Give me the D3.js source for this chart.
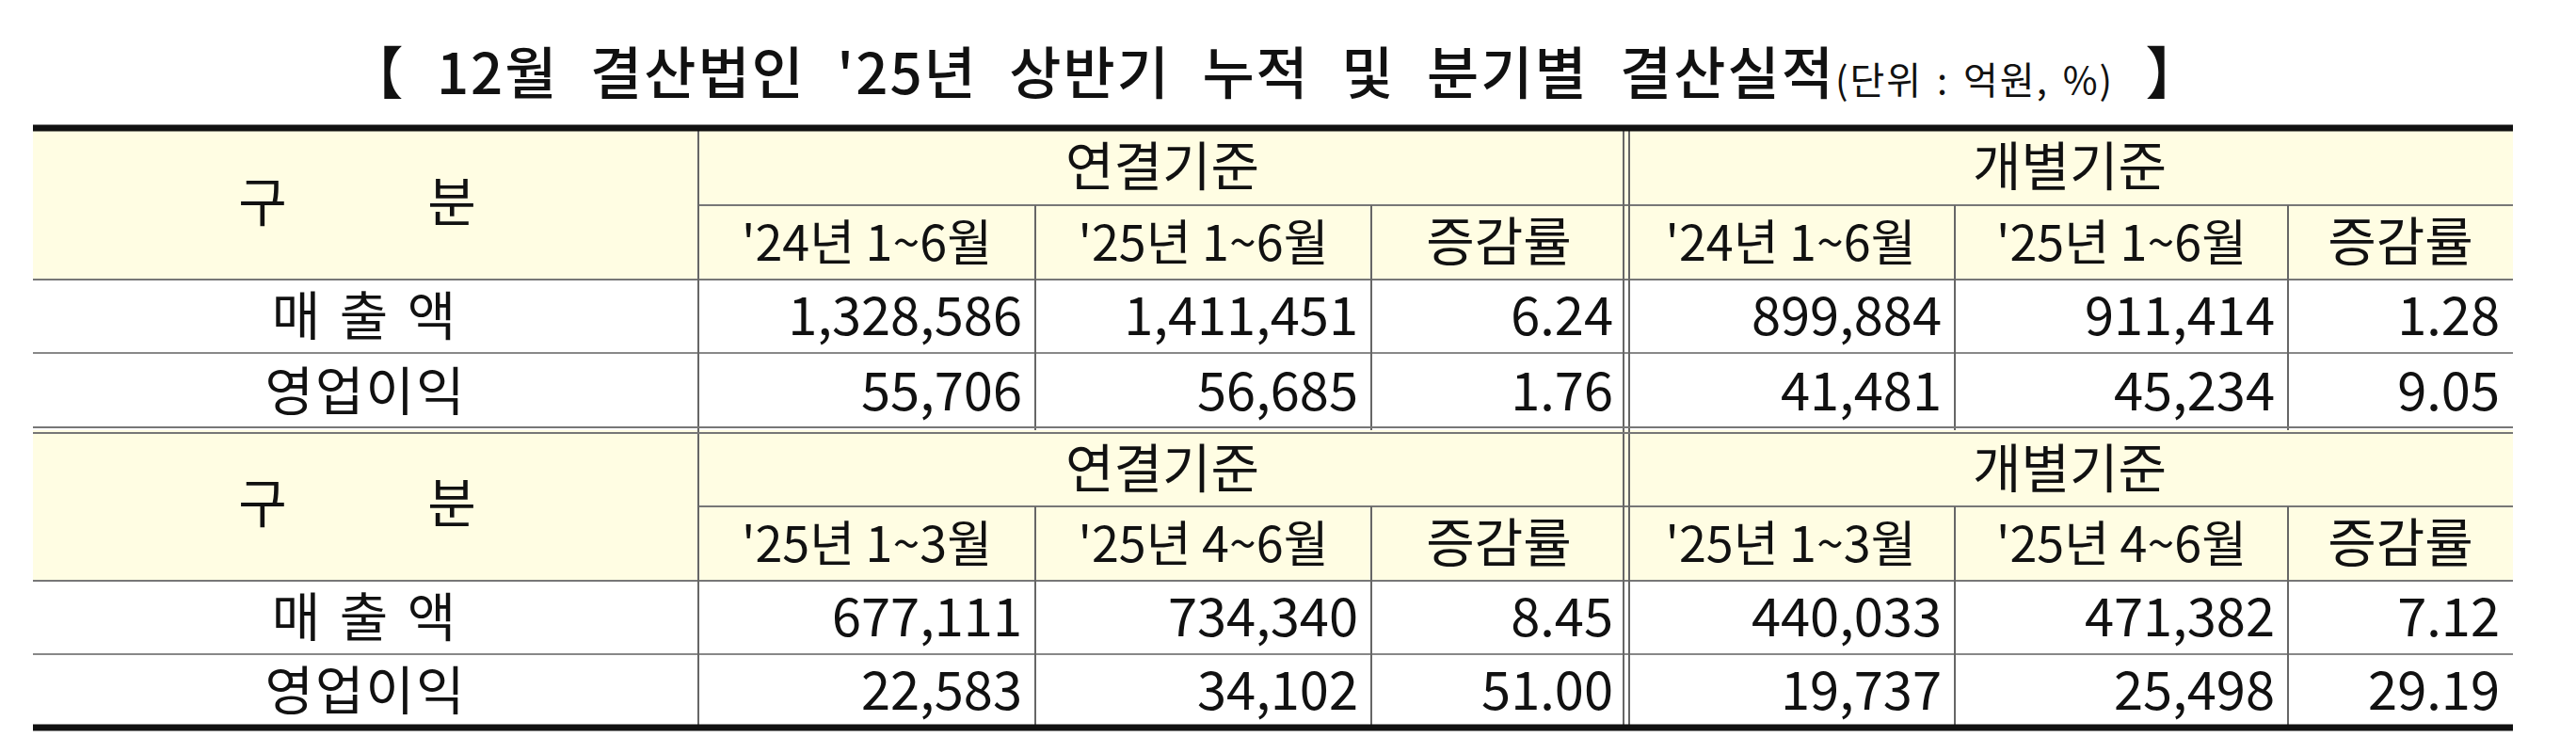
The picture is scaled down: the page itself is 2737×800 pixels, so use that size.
<!DOCTYPE html>
<html><head><meta charset="utf-8">
<script src="https://cdn.jsdelivr.net/npm/d3@7"></script>
<style>body{margin:0;background:#fff}text{font-family:"Noto Sans CJK KR","Noto Sans",sans-serif;fill:#111}</style>
</head><body><div id="chart"></div>
<script>
// data
var rowLabels = ['매 출 액', '영업이익'];
var groups = ['연결기준', '개별기준'];
var halfPeriods = ["'24년 1~6월", "'25년 1~6월", '증감률'];
var quarterPeriods = ["'25년 1~3월", "'25년 4~6월", '증감률'];
var halfValues = [
  ['1,328,586', '1,411,451', '6.24', '899,884', '911,414', '1.28'],
  ['55,706', '56,685', '1.76', '41,481', '45,234', '9.05']
];
var quarterValues = [
  ['677,111', '734,340', '8.45', '440,033', '471,382', '7.12'],
  ['22,583', '34,102', '51.00', '19,737', '25,498', '29.19']
];

var W = 2737, H = 800;
var svg = d3.select('#chart').append('svg').attr('width', W).attr('height', H);

// column edges and row edges
var colX = [35, 742, 1100, 1457, 1728, 2077, 2431, 2670];
var rowY = [136, 218, 297, 375, 457, 538, 617, 695, 773];
var fs = 56;

// title
var title = svg.append('text').attr('x', 1355).attr('y', 100).attr('text-anchor', 'middle')
  .style('font-size', '60px').style('font-weight', 500).style('word-spacing', '18px').style('letter-spacing', '2px');
title.append('tspan').text("【 12월 결산법인 '25년 상반기 누적 및 분기별 결산실적");
title.append('tspan').style('font-size', '40px').style('font-weight', 400).style('word-spacing', '4px').text('(단위 : 억원, %)');
title.append('tspan').text(' 】');

function block(top, periods, values) {
  var y = function(i) { return rowY[top + i]; };
  // header fill
  svg.append('rect').attr('x', colX[0]).attr('y', y(0)).attr('width', colX[7] - colX[0])
    .attr('height', y(2) - y(0)).attr('fill', '#fffde3');

  // header text
  svg.append('text').attr('x', 279).attr('y', (y(0) + y(2)) / 2 + 18).attr('text-anchor', 'middle')
    .style('font-size', fs + 'px').text('구');
  svg.append('text').attr('x', 480).attr('y', (y(0) + y(2)) / 2 + 18).attr('text-anchor', 'middle')
    .style('font-size', fs + 'px').text('분');
  groups.forEach(function(g, gi) {
    svg.append('text').attr('x', (colX[1 + gi * 3] + colX[4 + gi * 3]) / 2).attr('y', (y(0) + y(1)) / 2 + 20)
      .attr('text-anchor', 'middle').style('font-size', fs + 'px').text(g);
    periods.forEach(function(p, pi) {
      var c = 1 + gi * 3 + pi;
      svg.append('text').attr('x', (colX[c] + colX[c + 1]) / 2).attr('y', (y(1) + y(2)) / 2 + 19)
        .attr('text-anchor', 'middle').style('font-size', (pi == 2 ? fs : 52) + 'px').text(p);
    });
  });

  // body
  values.forEach(function(row, ri) {
    var ty = (y(2 + ri) + y(3 + ri)) / 2 + 20;
    svg.append('text').attr('x', (colX[0] + colX[1]) / 2).attr('y', ty).attr('text-anchor', 'middle')
      .style('font-size', fs + 'px').style('letter-spacing', ri == 0 ? '4px' : '2px').text(rowLabels[ri]);
    row.forEach(function(v, vi) {
      svg.append('text').attr('x', colX[vi + 2] - 14).attr('y', ty).attr('text-anchor', 'end')
        .style('font-size', fs + 'px').text(v);
    });
  });

  // grid lines
  var line = function(x1, y1, x2, y2, w, c) {
    svg.append('line').attr('x1', x1).attr('y1', y1).attr('x2', x2).attr('y2', y2)
      .attr('stroke', c || '#555').attr('stroke-width', w || 2);
  };
  line(colX[1], y(1), colX[7], y(1), 2, '#777');
  line(colX[0], y(2), colX[7], y(2), 2, '#777');
  line(colX[0], y(3), colX[7], y(3), 2, '#888');
  [1, 2, 3, 5, 6].forEach(function(c) { line(colX[c], c == 1 ? y(0) : y(1), colX[c], y(4), 2, '#666'); });
  line(colX[4] - 3, y(0), colX[4] - 3, y(4), 2, '#666');
  line(colX[4] + 3, y(0), colX[4] + 3, y(4), 2, '#666');
}

block(0, halfPeriods, halfValues);
block(4, quarterPeriods, quarterValues);

// outer rules
svg.append('line').attr('x1', colX[0]).attr('x2', colX[7]).attr('y1', rowY[0]).attr('y2', rowY[0])
  .attr('stroke', '#111').attr('stroke-width', 7);
svg.append('line').attr('x1', colX[0]).attr('x2', colX[7]).attr('y1', rowY[4] - 3).attr('y2', rowY[4] - 3)
  .attr('stroke', '#777').attr('stroke-width', 2);
svg.append('line').attr('x1', colX[0]).attr('x2', colX[7]).attr('y1', rowY[4] + 3).attr('y2', rowY[4] + 3)
  .attr('stroke', '#777').attr('stroke-width', 2);
svg.append('line').attr('x1', colX[0]).attr('x2', colX[7]).attr('y1', rowY[8]).attr('y2', rowY[8])
  .attr('stroke', '#111').attr('stroke-width', 7);
</script></body></html>
